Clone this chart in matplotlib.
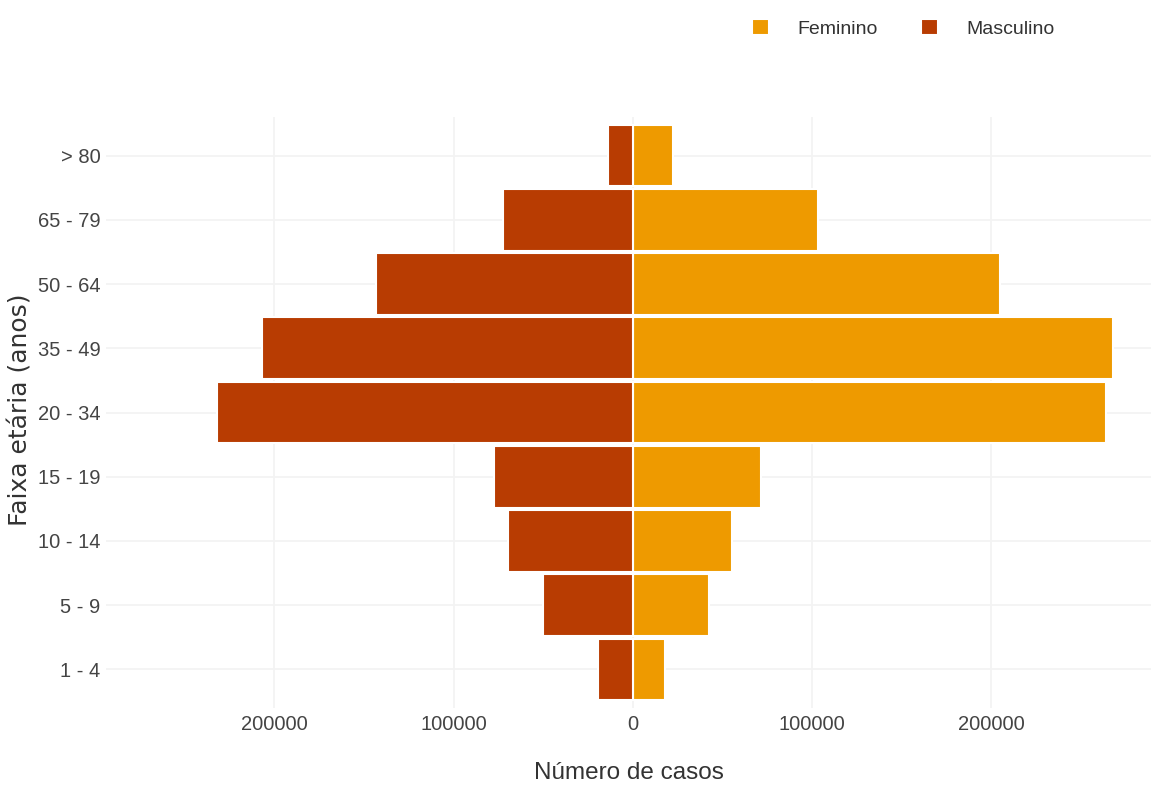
import numpy as np
import matplotlib.pyplot as plt

# faixas etarias, de baixo para cima
faixas = ['1 - 4', '5 - 9', '10 - 14', '15 - 19', '20 - 34', '35 - 49', '50 - 64', '65 - 79', '> 80']
feminino = [18000, 42500, 55000, 71500, 264000, 268000, 205000, 103000, 22500]
masculino = [19500, 50000, 69500, 77500, 232000, 207000, 143500, 72500, 14000]

cor_fem = '#EE9A00'
cor_masc = '#B83C02'
fonte = ['Liberation Sans', 'DejaVu Sans']

fig = plt.figure(figsize=(11.51, 7.85), dpi=100)
ax = fig.add_axes([106/1151, 1 - 708/785, 1 - 106/1151, (708-117)/785])

y = np.arange(len(faixas))
ax.barh(y, feminino, height=0.96, color=cor_fem, edgecolor='white', linewidth=1.5, label='Feminino', zorder=3)
ax.barh(y, -np.array(masculino), height=0.96, color=cor_masc, edgecolor='white', linewidth=1.5, label='Masculino', zorder=3)

ax.set_xlim(-294000, 289000)
ax.set_ylim(-0.6, 8.6)

xt = [-200000, -100000, 0, 100000, 200000]
ax.set_xticks(xt)
ax.set_xticklabels([str(abs(v)) for v in xt], family=fonte, fontsize=14.5, color='#444444')
ax.set_yticks(y)
ax.set_yticklabels(faixas, family=fonte, fontsize=14.5, color='#444444')
ax.tick_params(axis='y', length=0, pad=4)
ax.tick_params(axis='x', length=0, pad=5)

ax.grid(True, color='#F3F3F3', linewidth=1.3, zorder=0)
for s in ax.spines.values():
    s.set_visible(False)

ax.set_xlabel('Número de casos', family=fonte, fontsize=17.5, color='#333333', labelpad=20)
fig.text(0.018, 0.478, 'Faixa etária (anos)', rotation=90, ha='center', va='center',
         fontsize=18, color='#333333')

ax.legend(loc='center', bbox_to_anchor=(0.785, 0.964), bbox_transform=fig.transFigure,
          ncol=2, frameon=False, prop={'family': fonte, 'size': 14},
          handlelength=0.85, handleheight=0.95, columnspacing=2.2, handletextpad=1.5,
          labelcolor='#333333')

fig.savefig('out.png', dpi=100, facecolor='white')
